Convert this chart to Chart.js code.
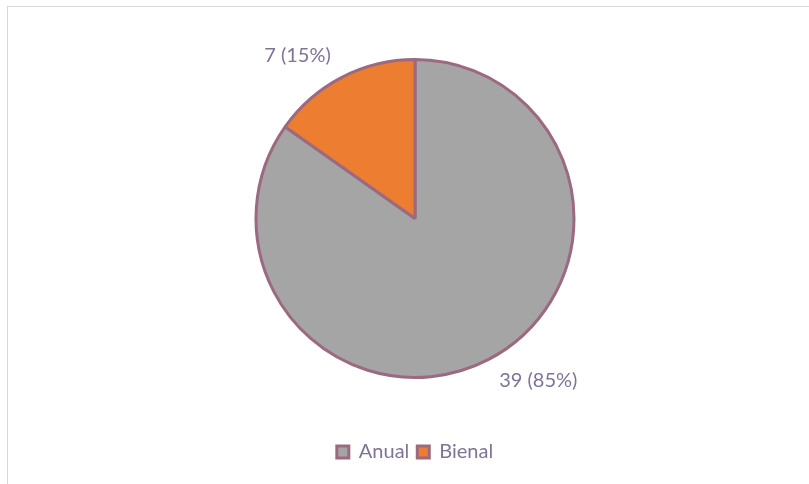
<!DOCTYPE html>
<html>
<head>
<meta charset="utf-8">
<script src="https://cdn.jsdelivr.net/npm/chart.js@4/dist/chart.umd.min.js"></script>
<style>
  html, body { margin: 0; padding: 0; background: #fff; overflow: hidden; }
  #wrap { position: relative; width: 809px; height: 484px; }
  #frame { position: absolute; left: 7px; top: 6px; width: 900px; height: 600px; border: 1px solid #d9d9d9; box-sizing: border-box; }
  #chart { position: absolute; left: 0; top: 0; }
</style>
</head>
<body>
<div id="wrap">
  <div id="frame"></div>
  <canvas id="chart" width="809" height="484"></canvas>
</div>
<script>
const categories = ['Anual', 'Bienal'];
const counts = [39, 7];
const sliceColors = ['#a5a5a5', '#ed7d31'];
const edgeColor = '#9b6a80';
const textColor = '#7f7397';

const total = counts.reduce((a, b) => a + b, 0);

// data labels like "39 (85%)" just outside each slice
const sliceLabels = {
  id: 'sliceLabels',
  afterDatasetsDraw(chart) {
    const ctx = chart.ctx;
    const meta = chart.getDatasetMeta(0);
    ctx.save();
    ctx.font = '20px Lato';
    ctx.fillStyle = textColor;
    ctx.textBaseline = 'middle';
    meta.data.forEach((arc, i) => {
      const mid = (arc.startAngle + arc.endAngle) / 2;
      const r = arc.outerRadius + 24;
      const x = arc.x + Math.cos(mid) * r;
      const y = arc.y + Math.sin(mid) * r;
      ctx.textAlign = Math.cos(mid) < 0 ? 'right' : 'left';
      const pct = Math.round(counts[i] / total * 100);
      ctx.fillText(counts[i] + ' (' + pct + '%)', x, y);
    });
    ctx.restore();
  }
};

new Chart(document.getElementById('chart').getContext('2d'), {
  type: 'pie',
  data: {
    labels: categories,
    datasets: [{
      data: counts,
      backgroundColor: sliceColors,
      borderColor: edgeColor,
      borderWidth: 3,
      radius: 159
    }]
  },
  options: {
    responsive: false,
    animation: false,
    layout: { padding: { top: 3, bottom: 12, left: 21 } },
    plugins: {
      tooltip: { enabled: false },
      legend: {
        position: 'bottom',
        labels: {
          font: { family: 'Lato', size: 20 },
          color: textColor,
          boxWidth: 12,
          boxHeight: 12,
          padding: 8
        }
      }
    }
  },
  plugins: [sliceLabels]
});
</script>
</body>
</html>
